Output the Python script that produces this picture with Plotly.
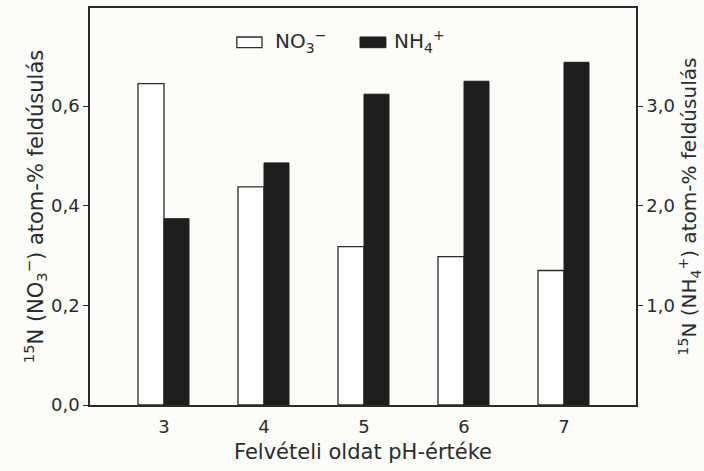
import plotly.graph_objects as go

# pH of the uptake solution and the 15N enrichment measured for each ion
ph_values = [3, 4, 5, 6, 7]
nitrate_enrichment = [0.645, 0.438, 0.318, 0.298, 0.270]      # left axis, atom-%
ammonium_enrichment = [1.87, 2.43, 3.12, 3.25, 3.44]          # right axis, atom-%

left_tick_vals = [0.0, 0.2, 0.4, 0.6]
left_tick_text = ["0,0", "0,2", "0,4", "0,6"]
right_tick_vals = [1.0, 2.0, 3.0]
right_tick_text = ["1,0", "2,0", "3,0"]

nitrate_label = "NO<sub>3</sub><sup>−</sup>"
ammonium_label = "NH<sub>4</sub><sup>+</sup>"

INK = "#2b2b2b"
BAR_DARK = "#1e1e1e"
PAPER = "#fcfcfa"
FONT = "DejaVu Sans"

fig = go.Figure()
fig.add_bar(
    x=ph_values, y=nitrate_enrichment, name=nitrate_label,
    width=0.26, offset=-0.26, yaxis="y",
    marker=dict(color="white", line=dict(color=INK, width=1.3)),
    showlegend=False,
)
fig.add_bar(
    x=ph_values, y=ammonium_enrichment, name=ammonium_label,
    width=0.25, offset=0.0, yaxis="y2",
    marker=dict(color=BAR_DARK, line=dict(color=BAR_DARK, width=1)),
    showlegend=False,
)

axis_common = dict(
    showgrid=False, zeroline=False, showline=True,
    linecolor=INK, linewidth=1.5,
    tickfont=dict(family=FONT, size=18, color=INK),
)

fig.update_layout(
    width=704, height=471,
    margin=dict(l=90, r=68, t=6, b=66),
    paper_bgcolor=PAPER, plot_bgcolor=PAPER,
    barmode="overlay",
    font=dict(family=FONT, color=INK),
    xaxis=dict(
        **axis_common,
        range=[2.26, 7.72], tickvals=ph_values, ticks="",
        ticklabelstandoff=5,
        mirror=True,
        title=dict(text="Felvételi oldat pH-értéke",
                   font=dict(family=FONT, size=21, color=INK), standoff=8),
    ),
    yaxis=dict(
        **axis_common,
        range=[0, 0.797], tickvals=left_tick_vals, ticktext=left_tick_text,
        ticks="outside", ticklen=5, tickcolor=INK, tickwidth=1.2,
        title=dict(text="<sup>15</sup>N (NO<sub>3</sub><sup>−</sup>) atom-% feldúsulás",
                   font=dict(family=FONT, size=21, color=INK), standoff=2),
    ),
    yaxis2=dict(
        **axis_common,
        overlaying="y", side="right",
        range=[0, 3.985], tickvals=right_tick_vals, ticktext=right_tick_text,
        ticks="outside", ticklen=5, tickcolor=INK, tickwidth=1.2,
        title=dict(text="<sup>15</sup>N (NH<sub>4</sub><sup>+</sup>) atom-% feldúsulás",
                   font=dict(family=FONT, size=20, color=INK), standoff=4),
    ),
)

# Key drawn as swatches plus labels across the top of the plot area
fig.add_shape(type="rect", xref="paper", yref="paper",
              x0=0.269, x1=0.315, y0=0.900, y1=0.927,
              fillcolor="white", line=dict(color=INK, width=1.3))
fig.add_shape(type="rect", xref="paper", yref="paper",
              x0=0.4945, x1=0.542, y0=0.900, y1=0.927,
              fillcolor=BAR_DARK, line=dict(color=BAR_DARK, width=1))
fig.add_annotation(xref="paper", yref="paper", x=0.335, y=0.915,
                   xanchor="left", yanchor="middle", showarrow=False,
                   text=nitrate_label, font=dict(family=FONT, size=20, color=INK))
fig.add_annotation(xref="paper", yref="paper", x=0.553, y=0.915,
                   xanchor="left", yanchor="middle", showarrow=False,
                   text=ammonium_label, font=dict(family=FONT, size=20, color=INK))

fig.write_html("out.html")
